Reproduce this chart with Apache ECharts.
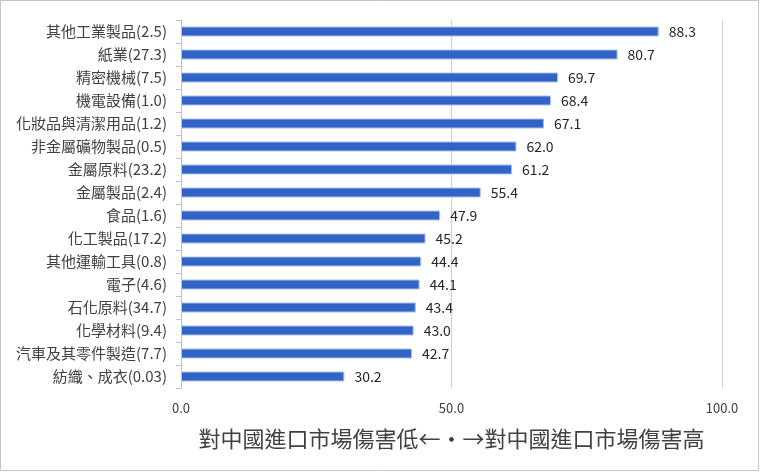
<!DOCTYPE html>
<html><head><meta charset="utf-8">
<script src="https://cdn.jsdelivr.net/npm/echarts@6/dist/echarts.min.js"></script>
<style>html,body{margin:0;padding:0;background:#fff}#c{width:760px;height:472px}</style>
</head><body><div id="c"></div>
<script>
const categories = ['其他工業製品(2.5)','紙業(27.3)','精密機械(7.5)','機電設備(1.0)','化妝品與清潔用品(1.2)','非金屬礦物製品(0.5)','金屬原料(23.2)','金屬製品(2.4)','食品(1.6)','化工製品(17.2)','其他運輸工具(0.8)','電子(4.6)','石化原料(34.7)','化學材料(9.4)','汽車及其零件製造(7.7)','紡織、成衣(0.03)'];
const values = [88.3,80.7,69.7,68.4,67.1,62.0,61.2,55.4,47.9,45.2,44.4,44.1,43.4,43.0,42.7,30.2];
const xTicks = [0,50,100];
const axisTitle = '對中國進口市場傷害低←・→對中國進口市場傷害高';

const font = '"Noto Sans CJK TC","Noto Sans",sans-serif';
const chart = echarts.init(document.getElementById('c'));
chart.setOption({
  animation:false,
  backgroundColor:'#fff',
  graphic:[{type:'rect',shape:{x:0.5,y:0.5,width:758,height:470},style:{fill:'none',stroke:'#c4c4c4',lineWidth:1},silent:true}],
  grid:{left:181,right:38,top:20,bottom:84,containLabel:false},
  xAxis:{type:'value',min:xTicks[0],max:xTicks[xTicks.length-1],interval:xTicks[1]-xTicks[0],
    axisLine:{show:false},axisTick:{show:false},
    splitLine:{show:true,lineStyle:{color:'#cfcfcf',width:1}},
    axisLabel:{formatter:v=>v.toFixed(1),color:'#404040',fontSize:13,fontFamily:font,margin:14},
    name:axisTitle,nameLocation:'middle',nameGap:40,
    nameTextStyle:{fontSize:22,color:'#404040',fontFamily:font}},
  yAxis:{type:'category',data:categories,inverse:true,
    axisLine:{show:true,lineStyle:{color:'#bfbfbf'}},
    axisTick:{show:true,length:5,lineStyle:{color:'#bfbfbf'}},
    axisLabel:{color:'#404040',fontSize:15,fontFamily:font,margin:14}},
  series:[{type:'bar',data:values,barWidth:10,
    itemStyle:{color:'#3264c8',borderColor:'#a9c0ec',borderWidth:1},
    label:{show:true,position:'right',distance:10,formatter:p=>p.value.toFixed(1),color:'#262626',fontSize:14,fontFamily:font}}]
});
</script></body></html>
